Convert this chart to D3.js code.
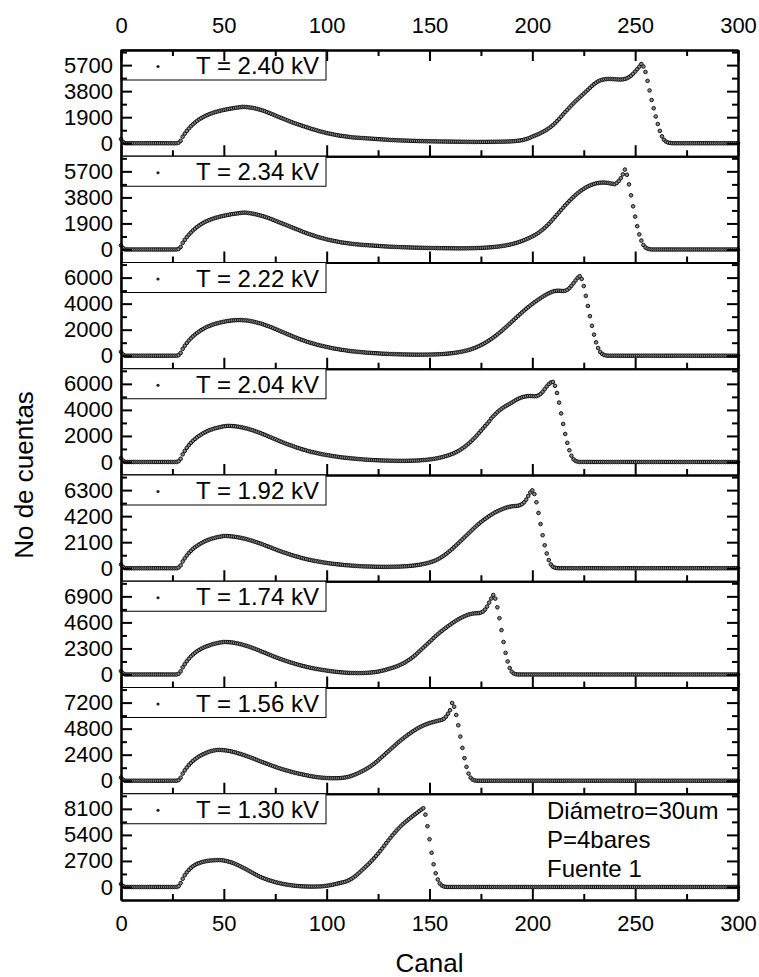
<!DOCTYPE html>
<html>
<head>
<meta charset="utf-8">
<script src="https://cdn.jsdelivr.net/npm/d3@7/dist/d3.min.js"></script>
<style>
  html, body { margin: 0; padding: 0; background: #fff; }
  svg { display: block; font-family: "Liberation Sans", Arial, sans-serif; }
</style>
</head>
<body>
<svg id="chart" width="759" height="977"></svg>
<script>
// Channel numbers (one reading per channel)
const channels = d3.range(0, 301);

// Panel labels, top to bottom
const voltageLabels = ["T = 2.40 kV", "T = 2.34 kV", "T = 2.22 kV", "T = 2.04 kV",
                       "T = 1.92 kV", "T = 1.74 kV", "T = 1.56 kV", "T = 1.30 kV"];
// Spacing between labelled count ticks of each panel
const tickSteps = [1900, 1900, 2000, 2000, 2100, 2300, 2400, 2700];
const xMajorTicks = [0, 50, 100, 150, 200, 250, 300];
const xMinorTicks = [25, 75, 125, 175, 225, 275];
const notes = ["Diámetro=30um", "P=4bares", "Fuente 1"];

// Counts per channel (rows of ten channels), one array per voltage
const counts240 = [
  300,100,0,0,0,0,0,0,0,0,
  0,0,0,0,0,0,0,0,0,0,
  0,0,0,0,0,0,0,0,40,180,
  480,700,900,1080,1240,1380,1510,1630,1740,1830,
  1910,1990,2060,2120,2180,2230,2280,2320,2360,2400,
  2430,2460,2490,2520,2540,2570,2590,2610,2630,2650,
  2650,2640,2620,2600,2580,2550,2510,2470,2430,2380,
  2330,2270,2210,2150,2090,2030,1960,1900,1840,1780,
  1720,1660,1600,1540,1480,1430,1380,1330,1280,1230,
  1180,1130,1080,1030,990,950,900,860,820,780,
  740,710,680,650,620,590,560,540,520,500,
  480,460,440,420,410,400,390,380,370,360,
  350,340,330,320,310,300,290,280,270,260,
  250,240,232,225,218,211,205,199,193,188,
  183,178,173,168,164,160,156,152,148,145,
  142,139,136,133,130,128,126,124,122,120,
  118,116,114,112,110,108,106,104,102,100,
  98,96,95,94,94,94,95,96,98,100,
  102,104,106,108,110,113,116,120,125,130,
  140,150,165,180,200,225,260,300,350,410,
  480,540,600,670,740,820,900,990,1090,1200,
  1320,1460,1610,1770,1940,2110,2280,2440,2600,2760,
  2910,3060,3200,3340,3480,3620,3760,3900,4040,4180,
  4310,4420,4510,4580,4630,4660,4680,4690,4690,4680,
  4670,4660,4650,4650,4660,4690,4740,4820,4930,5070,
  5230,5400,5580,5780,5600,5200,4550,3850,3150,2550,
  1950,1400,900,500,250,120,50,20,0,0,
  0,0,0,0,0,0,0,0,0,0,
  0,0,0,0,0,0,0,0,0,0,
  0,0,0,0,0,0,0,0,0,0,
  0
];
const counts234 = [
  300,100,0,0,0,0,0,0,0,0,
  0,0,0,0,0,0,0,0,0,0,
  0,0,0,0,0,0,0,0,40,180,
  480,700,900,1080,1240,1390,1520,1640,1750,1850,
  1940,2020,2090,2150,2210,2260,2310,2350,2390,2430,
  2460,2490,2520,2550,2580,2600,2620,2640,2660,2680,
  2690,2680,2660,2640,2610,2580,2550,2510,2470,2430,
  2380,2330,2280,2220,2160,2100,2040,1980,1920,1860,
  1800,1740,1680,1620,1560,1500,1440,1380,1320,1260,
  1200,1150,1100,1050,1000,950,900,860,820,780,
  740,700,670,640,610,580,550,520,500,480,
  460,440,420,400,385,370,355,340,330,320,
  310,300,290,280,270,260,250,240,230,220,
  210,202,195,188,182,176,170,165,160,155,
  150,145,140,136,132,128,124,120,117,114,
  111,108,105,102,100,98,96,94,92,90,
  88,86,85,84,84,84,85,86,88,90,
  93,96,100,105,110,116,123,131,140,150,
  162,175,190,207,226,247,270,296,325,357,
  392,430,472,518,568,622,680,742,808,878,
  952,1030,1120,1220,1330,1450,1580,1720,1870,2030,
  2200,2370,2540,2710,2880,3050,3220,3380,3540,3690,
  3830,3970,4100,4220,4330,4430,4520,4600,4670,4730,
  4780,4820,4850,4870,4880,4880,4870,4850,4820,4790,
  4760,4850,5000,5200,5480,5830,5450,4750,3950,3150,
  2400,1700,1100,650,330,150,60,20,0,0,
  0,0,0,0,0,0,0,0,0,0,
  0,0,0,0,0,0,0,0,0,0,
  0,0,0,0,0,0,0,0,0,0,
  0,0,0,0,0,0,0,0,0,0,
  0
];
const counts222 = [
  300,100,0,0,0,0,0,0,0,0,
  0,0,0,0,0,0,0,0,0,0,
  0,0,0,0,0,0,0,0,50,210,
  530,770,980,1170,1340,1490,1630,1750,1860,1970,
  2060,2150,2230,2290,2350,2410,2460,2500,2540,2580,
  2610,2640,2670,2690,2710,2720,2730,2740,2740,2730,
  2720,2710,2690,2660,2630,2590,2550,2510,2470,2420,
  2360,2300,2250,2190,2120,2060,1990,1920,1850,1790,
  1720,1650,1590,1520,1450,1390,1330,1270,1210,1160,
  1100,1050,1000,960,910,860,820,780,750,710,
  670,640,600,570,540,520,490,460,440,420,
  390,370,350,330,320,300,290,270,260,240,
  230,220,210,200,190,180,170,160,150,145,
  140,130,125,120,115,110,105,100,98,94,
  91,88,86,84,83,82,82,83,84,86,
  90,93,98,104,111,119,127,137,149,163,
  178,196,216,238,263,290,321,357,396,439,
  488,542,601,666,737,813,896,984,1078,1178,
  1284,1395,1513,1637,1764,1896,2034,2174,2317,2462,
  2609,2756,2903,3048,3191,3332,3469,3602,3732,3857,
  3979,4096,4210,4320,4426,4528,4626,4720,4800,4870,
  4930,4970,4990,4990,4980,4970,4990,5060,5190,5370,
  5570,5780,5980,6110,5900,5350,4600,3820,3040,2300,
  1620,1030,590,290,130,50,15,0,0,0,
  0,0,0,0,0,0,0,0,0,0,
  0,0,0,0,0,0,0,0,0,0,
  0,0,0,0,0,0,0,0,0,0,
  0,0,0,0,0,0,0,0,0,0,
  0,0,0,0,0,0,0,0,0,0,
  0,0,0,0,0,0,0,0,0,0,
  0
];
const counts204 = [
  300,100,0,0,0,0,0,0,0,0,
  0,0,0,0,0,0,0,0,0,0,
  0,0,0,0,0,0,0,0,60,250,
  590,850,1090,1290,1470,1630,1770,1900,2010,2110,
  2210,2290,2370,2440,2490,2550,2600,2630,2670,2710,
  2740,2760,2770,2770,2760,2750,2730,2710,2680,2650,
  2610,2580,2530,2480,2440,2380,2320,2270,2210,2140,
  2080,2010,1940,1880,1810,1750,1680,1610,1550,1480,
  1420,1360,1300,1250,1190,1130,1080,1030,980,930,
  890,840,800,760,730,690,660,620,590,560,
  530,510,480,450,430,410,380,360,340,330,
  310,290,280,260,250,230,220,210,190,180,
  170,160,150,145,137,130,123,117,112,107,
  102,98,95,92,90,88,87,87,88,90,
  93,97,101,107,115,123,134,146,160,176,
  194,215,239,265,295,329,367,409,455,504,
  557,615,682,757,843,937,1041,1155,1278,1411,
  1553,1704,1865,2036,2216,2396,2576,2756,2936,3116,
  3340,3510,3670,3820,3960,4080,4190,4290,4380,4470,
  4560,4660,4760,4840,4910,4970,5010,5040,5060,5070,
  5060,5050,5060,5120,5230,5390,5590,5800,5980,6110,
  6150,5850,5300,4560,3730,2920,2150,1470,900,480,
  210,80,25,0,0,0,0,0,0,0,
  0,0,0,0,0,0,0,0,0,0,
  0,0,0,0,0,0,0,0,0,0,
  0,0,0,0,0,0,0,0,0,0,
  0,0,0,0,0,0,0,0,0,0,
  0,0,0,0,0,0,0,0,0,0,
  0,0,0,0,0,0,0,0,0,0,
  0,0,0,0,0,0,0,0,0,0,
  0
];
const counts192 = [
  300,100,0,0,0,0,0,0,0,0,
  0,0,0,0,0,0,0,0,0,0,
  0,0,0,0,0,0,0,0,55,230,
  550,800,1030,1230,1400,1560,1690,1810,1920,2010,
  2100,2190,2260,2320,2380,2420,2470,2510,2540,2570,
  2600,2600,2590,2580,2560,2540,2520,2490,2460,2420,
  2390,2340,2300,2250,2200,2140,2090,2030,1980,1910,
  1850,1780,1720,1660,1590,1530,1460,1400,1340,1280,
  1230,1170,1120,1060,1010,960,920,870,820,780,
  740,700,670,630,600,570,540,510,480,450,
  430,400,380,360,340,320,300,290,270,250,
  240,230,210,200,190,180,170,160,150,145,
  140,135,130,125,120,118,115,113,112,112,
  113,115,118,122,126,131,138,146,155,166,
  179,194,211,230,252,277,306,338,374,414,
  458,510,570,640,720,810,910,1020,1140,1270,
  1410,1550,1700,1850,2010,2170,2330,2490,2650,2810,
  2970,3130,3290,3440,3580,3720,3850,3970,4090,4200,
  4310,4410,4510,4590,4670,4740,4810,4870,4920,4960,
  4990,5010,5020,5040,5090,5170,5310,5530,5820,6110,
  6280,5980,5320,4460,3560,2660,1850,1190,660,310,
  120,40,10,0,0,0,0,0,0,0,
  0,0,0,0,0,0,0,0,0,0,
  0,0,0,0,0,0,0,0,0,0,
  0,0,0,0,0,0,0,0,0,0,
  0,0,0,0,0,0,0,0,0,0,
  0,0,0,0,0,0,0,0,0,0,
  0,0,0,0,0,0,0,0,0,0,
  0,0,0,0,0,0,0,0,0,0,
  0,0,0,0,0,0,0,0,0,0,
  0
];
const counts174 = [
  300,100,0,0,0,0,0,0,0,0,
  0,0,0,0,0,0,0,0,0,0,
  0,0,0,0,0,0,0,0,60,270,
  630,910,1170,1400,1600,1770,1920,2050,2170,2270,
  2360,2440,2510,2570,2640,2690,2740,2780,2820,2840,
  2870,2870,2860,2840,2830,2800,2760,2730,2680,2640,
  2580,2530,2470,2400,2340,2270,2200,2130,2050,1980,
  1910,1830,1760,1690,1610,1540,1470,1400,1340,1270,
  1210,1150,1090,1030,980,920,870,820,770,730,
  680,640,600,560,530,490,460,430,400,380,
  340,315,290,265,245,225,205,190,175,160,
  150,140,133,128,125,124,125,128,133,140,
  150,163,180,200,225,255,290,330,375,425,
  485,535,590,650,718,792,872,960,1060,1170,
  1290,1410,1550,1700,1860,2030,2200,2370,2540,2710,
  2880,3050,3220,3390,3550,3700,3850,3990,4130,4260,
  4390,4520,4640,4760,4870,4970,5060,5150,5220,5290,
  5340,5380,5400,5410,5420,5470,5560,5730,6000,6350,
  6700,7020,6700,5930,4970,3920,2870,1910,1150,570,
  240,80,20,0,0,0,0,0,0,0,
  0,0,0,0,0,0,0,0,0,0,
  0,0,0,0,0,0,0,0,0,0,
  0,0,0,0,0,0,0,0,0,0,
  0,0,0,0,0,0,0,0,0,0,
  0,0,0,0,0,0,0,0,0,0,
  0,0,0,0,0,0,0,0,0,0,
  0,0,0,0,0,0,0,0,0,0,
  0,0,0,0,0,0,0,0,0,0,
  0,0,0,0,0,0,0,0,0,0,
  0,0,0,0,0,0,0,0,0,0,
  0
];
const counts156 = [
  300,100,0,0,0,0,0,0,0,0,
  0,0,0,0,0,0,0,0,0,0,
  0,0,0,0,0,0,0,0,60,280,
  660,960,1220,1450,1650,1830,1980,2120,2250,2350,
  2450,2530,2610,2680,2740,2780,2820,2840,2840,2830,
  2810,2790,2760,2730,2680,2640,2590,2530,2470,2410,
  2350,2280,2210,2140,2070,2000,1920,1840,1770,1700,
  1630,1560,1490,1420,1350,1280,1210,1150,1090,1030,
  970,920,870,810,760,720,670,630,590,550,
  510,470,430,400,370,340,315,295,275,260,
  250,240,235,232,232,235,242,255,275,300,
  335,380,440,510,590,670,760,850,950,1060,
  1170,1290,1420,1560,1710,1870,2040,2210,2380,2550,
  2720,2890,3060,3230,3400,3560,3720,3870,4020,4160,
  4300,4430,4560,4680,4800,4910,5000,5090,5170,5240,
  5310,5370,5420,5470,5520,5570,5610,5710,5900,6180,
  6500,7170,6820,6060,5110,4070,3030,2080,1280,660,
  280,95,25,0,0,0,0,0,0,0,
  0,0,0,0,0,0,0,0,0,0,
  0,0,0,0,0,0,0,0,0,0,
  0,0,0,0,0,0,0,0,0,0,
  0,0,0,0,0,0,0,0,0,0,
  0,0,0,0,0,0,0,0,0,0,
  0,0,0,0,0,0,0,0,0,0,
  0,0,0,0,0,0,0,0,0,0,
  0,0,0,0,0,0,0,0,0,0,
  0,0,0,0,0,0,0,0,0,0,
  0,0,0,0,0,0,0,0,0,0,
  0,0,0,0,0,0,0,0,0,0,
  0,0,0,0,0,0,0,0,0,0,
  0
];
const counts130 = [
  300,100,0,0,0,0,0,0,0,0,
  0,0,0,0,0,0,0,0,0,0,
  0,0,0,0,0,0,0,0,80,400,
  850,1220,1520,1770,1980,2150,2290,2400,2480,2550,
  2610,2660,2700,2730,2750,2770,2780,2790,2790,2780,
  2740,2700,2650,2590,2520,2440,2350,2250,2150,2040,
  1930,1820,1700,1580,1460,1340,1230,1120,1020,930,
  850,770,700,630,570,510,450,400,350,310,
  270,230,200,170,140,120,100,80,70,60,
  50,45,40,40,40,45,50,60,80,100,
  130,160,200,240,290,340,390,440,490,540,
  620,720,840,980,1140,1320,1510,1710,1910,2110,
  2310,2520,2740,2970,3210,3460,3720,3990,4270,4550,
  4830,5100,5360,5610,5850,6080,6300,6500,6690,6870,
  7040,7210,7380,7540,7700,7860,8020,8170,7500,6300,
  4950,3550,2350,1420,770,360,150,50,15,0,
  0,0,0,0,0,0,0,0,0,0,
  0,0,0,0,0,0,0,0,0,0,
  0,0,0,0,0,0,0,0,0,0,
  0,0,0,0,0,0,0,0,0,0,
  0,0,0,0,0,0,0,0,0,0,
  0,0,0,0,0,0,0,0,0,0,
  0,0,0,0,0,0,0,0,0,0,
  0,0,0,0,0,0,0,0,0,0,
  0,0,0,0,0,0,0,0,0,0,
  0,0,0,0,0,0,0,0,0,0,
  0,0,0,0,0,0,0,0,0,0,
  0,0,0,0,0,0,0,0,0,0,
  0,0,0,0,0,0,0,0,0,0,
  0,0,0,0,0,0,0,0,0,0,
  0
];
const series = [counts240, counts234, counts222, counts204, counts192, counts174, counts156, counts130];

const svg = d3.select("#chart");
const frame = { left: 121, right: 738, top: 50, bottom: 900 };
const panelH = (frame.bottom - frame.top) / series.length;
const x = d3.scaleLinear().domain([0, 300]).range([frame.left, frame.right]);

function styleAxis(sel, fontSize) {
  sel.attr("font-family", null).attr("font-size", null);
  sel.select(".domain").attr("stroke", "#000").attr("stroke-width", 2);
  sel.selectAll(".tick line").attr("stroke", "#000").attr("stroke-width", 2);
  sel.selectAll(".tick text").attr("fill", "#000").style("font-size", fontSize + "px");
}

series.forEach((vals, i) => {
  const top = frame.top + i * panelH;
  const bottom = top + panelH;
  const s = tickSteps[i];
  const y = d3.scaleLinear().domain([-0.5 * s, 3.58 * s]).range([bottom, top]);
  const g = svg.append("g");
  const yMajor = [0, s, 2 * s, 3 * s];
  const yMinor = [0.5 * s, 1.5 * s, 2.5 * s, 3.5 * s];

  // spectrum points
  g.append("g").selectAll("circle").data(vals).join("circle")
    .attr("cx", (d, j) => x(channels[j]))
    .attr("cy", d => y(d))
    .attr("r", 1.8)
    .attr("fill", "#8a8a8a")
    .attr("stroke", "#111")
    .attr("stroke-width", 1);

  // legend box
  g.append("rect")
    .attr("x", frame.left).attr("y", top)
    .attr("width", 205).attr("height", 30)
    .attr("fill", "#fff").attr("stroke", "#000").attr("stroke-width", 1);
  g.append("circle").attr("cx", 158).attr("cy", top + 16.5).attr("r", 1.6).attr("fill", "#222");
  g.append("text").attr("x", 196).attr("y", top + 24)
    .style("font-size", "24px").attr("fill", "#000").text(voltageLabels[i]);

  // left count axis
  g.append("g").attr("transform", `translate(${frame.left},0)`)
    .call(d3.axisLeft(y).tickValues(yMajor).tickSize(-11).tickSizeOuter(0).tickPadding(8).tickFormat(d3.format("d")))
    .call(styleAxis, 22);
  g.append("g").attr("transform", `translate(${frame.left},0)`)
    .call(d3.axisLeft(y).tickValues(yMinor).tickSize(-6).tickSizeOuter(0).tickFormat(""))
    .call(styleAxis, 22);
  // right mirror axis
  g.append("g").attr("transform", `translate(${frame.right},0)`)
    .call(d3.axisRight(y).tickValues(yMajor).tickSize(-11).tickSizeOuter(0).tickFormat(""))
    .call(styleAxis, 22);
  g.append("g").attr("transform", `translate(${frame.right},0)`)
    .call(d3.axisRight(y).tickValues(yMinor).tickSize(-6).tickSizeOuter(0).tickFormat(""))
    .call(styleAxis, 22);

  // bottom channel axis of the panel
  const last = i === series.length - 1;
  g.append("g").attr("transform", `translate(0,${bottom})`)
    .call(d3.axisBottom(x).tickValues(xMajorTicks).tickSize(-11).tickSizeOuter(0).tickPadding(15)
      .tickFormat(last ? d3.format("d") : ""))
    .call(styleAxis, 22);
  g.append("g").attr("transform", `translate(0,${bottom})`)
    .call(d3.axisBottom(x).tickValues(xMinorTicks).tickSize(-6).tickSizeOuter(0).tickFormat(""))
    .call(styleAxis, 22);

  if (i === 0) {
    g.append("g").attr("transform", `translate(0,${top})`)
      .call(d3.axisTop(x).tickValues(xMajorTicks).tickSize(-11).tickSizeOuter(0).tickPadding(17).tickFormat(d3.format("d")))
      .call(styleAxis, 22);
    g.append("g").attr("transform", `translate(0,${top})`)
      .call(d3.axisTop(x).tickValues(xMinorTicks).tickSize(-6).tickSizeOuter(0).tickFormat(""))
      .call(styleAxis, 22);
  }
});

// measurement notes in the bottom panel
svg.append("g").selectAll("text").data(notes).join("text")
  .attr("x", 547).attr("y", (d, k) => 819 + k * 29)
  .style("font-size", "24px").attr("fill", "#000").text(d => d);

// axis titles
svg.append("text").attr("x", (frame.left + frame.right) / 2).attr("y", 972)
  .attr("text-anchor", "middle").style("font-size", "26px").attr("fill", "#000").text("Canal");
svg.append("text").attr("transform", `translate(33,${(frame.top + frame.bottom) / 2}) rotate(-90)`)
  .attr("text-anchor", "middle").style("font-size", "26px").attr("fill", "#000").text("No de cuentas");
</script>
</body>
</html>
